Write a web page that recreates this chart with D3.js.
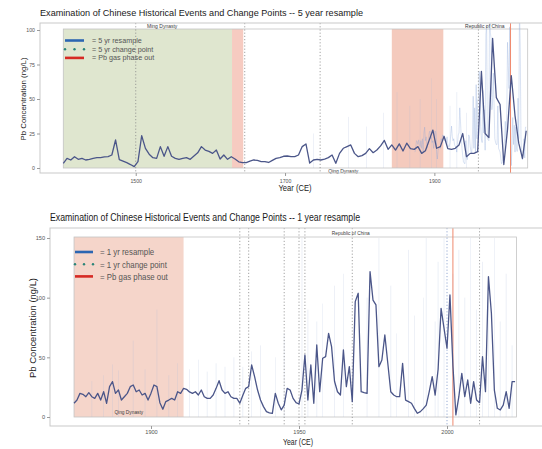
<!DOCTYPE html>
<html>
<head>
<meta charset="utf-8">
<script src="https://cdn.jsdelivr.net/npm/d3@7"></script>
<style>
  html, body { margin: 0; padding: 0; background: #fff; }
  svg { display: block; }
  text { font-family: "Liberation Sans", Arial, sans-serif; }
</style>
</head>
<body>
<svg id="chart" width="542" height="449"></svg>
<script>
// ---------------- data ----------------
// 5-year resampled Pb concentration (ng/L), starting 1403, one value every 5 years
const start5 = 1403;
const step5 = 5;
const pb5yr = [
  3.4, 7.0, 5.8, 8.2, 6.3, 7.0, 5.8, 6.3, 7.0, 7.5,
  7.5, 8.0, 8.2, 9.4, 20.3, 6.0, 5.0, 3.9, 2.5, 1.0,
  4.6, 23.4, 14.2, 10.0, 7.5, 7.0, 15.5, 8.5, 15.5, 8.5,
  7.0, 6.3, 7.0, 7.5, 6.3, 8.7, 11.0, 15.5, 13.0, 12.0,
  10.6, 13.0, 6.5, 9.4, 6.3, 8.2, 6.5, 4.5, 3.9, 3.9,
  5.0, 5.8, 5.5, 4.6, 4.6, 4.0, 5.5, 7.0, 7.5, 8.5,
  8.7, 8.2, 8.2, 9.4, 15.5, 17.4, 3.6, 5.8, 6.3, 5.8,
  6.5, 7.5, 9.4, 3.4, 10.6, 14.3, 15.5, 16.7, 10.6, 8.2,
  9.0, 10.6, 14.0, 11.1, 13.0, 16.0, 20.0, 13.5, 16.7, 13.0,
  17.5, 12.3, 18.0, 14.0, 13.5, 15.5, 10.6, 12.5, 20.0, 27.5,
  14.3, 15.5, 23.0, 14.0, 13.5, 14.3, 16.7, 25.0, 8.2, 10.6,
  10.6, 11.8, 70.0, 25.0, 22.0, 94.0, 51.0, 46.0, 2.5, 28.0,
  67.0, 38.0, 18.0, 7.0, 27.0
];

// 1-year resampled Pb concentration (ng/L), 1874 onward
const start1 = 1874;
const pb1yr = [
  11.5, 14.2, 19.8, 19.0, 17.0, 20.4, 17.0, 15.6, 19.8, 14.2,   // 1874-1883
  21.2, 11.5, 25.4, 29.6, 19.8, 22.6, 14.2, 17.0, 19.8, 25.4,   // 1884-1893
  26.8, 21.2, 22.6, 18.4, 19.8, 14.2, 20.0, 26.8, 25.4, 12.0,   // 1894-1903
  6.5, 12.9, 14.2, 15.6, 14.2, 21.2, 19.8, 24.0, 23.2, 21.0,    // 1904-1913
  19.8, 21.2, 18.4, 22.6, 17.0, 15.6, 15.6, 18.4, 24.0, 30.4,   // 1914-1923
  22.6, 19.8, 21.2, 17.0, 15.6, 15.6, 11.5, 18.0, 24.0, 25.4,   // 1924-1933
  43.6, 33.8, 22.6, 14.2, 8.7, 4.5, 3.5, 3.1, 19.8, 11.5,       // 1934-1943
  6.0, 10.0, 24.0, 22.6, 15.6, 12.0, 10.9, 22.6, 52.0, 14.2,    // 1944-1953
  43.6, 11.5, 60.4, 21.2, 49.2, 50.6, 70.1, 59.0, 30.0, 21.2,   // 1954-1963
  18.4, 56.2, 25.4, 42.2, 12.9, 96.7, 103.7, 21.2, 20.4, 19.8,  // 1964-1973
  121.8, 98.0, 93.9, 42.2, 47.8, 68.7, 45.0, 21.2, 18.4, 17.0,  // 1974-1983
  17.0, 45.0, 14.2, 12.9, 11.5, 7.0, 3.1, 4.5, 7.0, 10.0,       // 1984-1993
  21.2, 33.8, 18.4, 40.0, 91.1, 74.3, 57.6, 102.3, 43.0, 1.7,   // 1994-2003
  17.0, 36.6, 17.0, 31.0, 11.5, 29.6, 14.2, 12.0, 50.6, 21.2,   // 2004-2013
  117.6, 86.9, 22.6, 7.3, 5.9, 10.0, 21.2, 7.3, 29.6, 29.6      // 2014-2023
];

// Faint high-resolution excursions behind the resampled lines: [year, Pb]
const rawSpikesTop = [
  [1738, 25], [1785, 37], [1809, 30], [1832, 40], [1850, 55], [1867, 45],
  [1881, 50], [1896, 65], [1903, 50], [1921, 45], [1930, 55], [1943, 40]
];
const rawSpikesBottom = [
  [1880, 30], [1884, 35], [1887, 44], [1889, 39], [1894, 64], [1898, 40],
  [1902, 90], [1906, 35], [1909, 45], [1913, 40], [1916, 48], [1919, 38],
  [1922, 45], [1925, 42], [1928, 50], [1931, 42], [1934, 55], [1937, 60],
  [1942, 50], [1945, 70], [1951, 150], [1953, 90], [1956, 80], [1958, 95],
  [1962, 110], [1965, 120], [1973, 100], [1977, 150], [1981, 110], [1983, 70],
  [1987, 140], [1989, 85], [1992, 100], [1993, 150], [1996, 80], [1997, 130],
  [1999, 150], [2002, 120], [2004, 140], [2006, 100], [2008, 150], [2010, 90],
  [2012, 130], [2014, 100], [2016, 150], [2018, 80], [2020, 120], [2022, 60]
];

// Change points
const changePts5 = [1500, 1646, 1747, 1959];
const changePts1 = [1930, 1933, 1945, 1950, 1952, 1968, 2000, 2011];
const phaseOutYear = 2002;

// Historical periods
const shadesTop = [
  { from: 1403, to: 1629, color: "#dfe6cf" },
  { from: 1629, to: 1644, color: "#f6cbc1" },
  { from: 1843, to: 1912, color: "#f4cabd" }
];
const shadesBottom = [
  { from: 1874, to: 1911, color: "#f5d5ca" }
];
const erasTop = [
  { name: "Ming Dynasty", from: 1403, to: 1668, pos: "top" },
  { name: "Qing Dynasty", from: 1644, to: 1912, pos: "bottom" },
  { name: "Republic of China", from: 1912, to: 2023, pos: "top" }
];
const erasBottom = [
  { name: "Qing Dynasty", from: 1874, to: 1911, pos: "bottom" },
  { name: "Republic of China", from: 1912, to: 2023, pos: "top" }
];

const ticksTopX = [1500, 1700, 1900];
const ticksTopY = [0, 25, 50, 75, 100];
const ticksBottomX = [1900, 1950, 2000];
const ticksBottomY = [0, 50, 100, 150];

const legendTop = ["= 5 yr resample", "= 5 yr change point", "= Pb gas phase out"];
const legendBottom = ["= 1 yr resample", "= 1 yr change point", "= Pb gas phase out"];

const titleTop = "Examination of Chinese Historical Events and Change Points -- 5 year resample";
const titleBottom = "Examination of Chinese Historical Events and Change Points -- 1 year resample";

// ---------------- drawing ----------------
const svg = d3.select("#chart");
const series5 = pb5yr.map((v, i) => ({ year: start5 + i * step5, v }));
const series1 = pb1yr.map((v, i) => ({ year: start1 + i, v }));

// squeeze text horizontally to emulate a condensed face
function condense(sel, factor) {
  if (factor === 1) return;
  sel.each(function () {
    const w = this.getComputedTextLength();
    d3.select(this).attr("textLength", w * factor).attr("lengthAdjust", "spacingAndGlyphs");
  });
}

function drawPanel(cfg) {
  const g = svg.append("g");
  const { x, y, box } = cfg;
  const clipId = "clip-" + cfg.id;
  svg.append("defs").append("clipPath").attr("id", clipId)
    .append("rect").attr("x", box.x0).attr("y", box.y0)
    .attr("width", box.x1 - box.x0).attr("height", box.y1 - box.y0);

  // title
  svg.append("text")
    .attr("x", cfg.title.x).attr("y", cfg.title.y)
    .attr("font-size", cfg.title.size)
    .attr("fill", "#1a1a1a")
    .attr("textLength", cfg.title.len).attr("lengthAdjust", "spacingAndGlyphs")
    .text(cfg.title.text);

  const inner = g.append("g").attr("clip-path", `url(#${clipId})`);
  inner.append("rect").attr("x", box.x0).attr("y", box.y0)
    .attr("width", box.x1 - box.x0).attr("height", box.y1 - box.y0).attr("fill", "#fff");

  const yTop = y(y.domain()[1]) - 1, yBot = y(0);
  inner.selectAll(".shade").data(cfg.shades).join("rect")
    .attr("x", d => x(d.from)).attr("width", d => x(d.to) - x(d.from))
    .attr("y", yTop).attr("height", yBot - yTop)
    .attr("fill", d => d.color);

  // era frame
  inner.append("rect")
    .attr("x", x(cfg.frame[0])).attr("width", x(cfg.frame[1]) - x(cfg.frame[0]))
    .attr("y", yTop).attr("height", yBot - yTop)
    .attr("fill", "none").attr("stroke", "#c4c4c4").attr("stroke-width", 0.8);

  // faint raw excursions
  inner.selectAll(".spike").data(cfg.spikes).join("line")
    .attr("x1", d => x(d[0])).attr("x2", d => x(d[0]))
    .attr("y1", y(0)).attr("y2", d => y(d[1]))
    .attr("stroke", "#a9bbdc").attr("stroke-width", 0.6).attr("opacity", 0.35);

  if (cfg.faint) {
    inner.append("path").datum(cfg.faint)
      .attr("d", d3.line().x(d => x(d.year)).y(d => y(d.v)))
      .attr("fill", "none").attr("stroke", "#86a3d6").attr("stroke-width", 1)
      .attr("opacity", 0.3);
  }

  // change points
  inner.selectAll(".cp").data(cfg.cps).join("line")
    .attr("x1", d => x(d)).attr("x2", d => x(d))
    .attr("y1", box.y0).attr("y2", box.y1)
    .attr("stroke", d => d === 2000 ? "#7c95c8" : "#8c8c8c")
    .attr("stroke-width", 0.8).attr("stroke-dasharray", "1.2,2");

  // Pb gas phase out
  inner.append("line")
    .attr("x1", x(phaseOutYear)).attr("x2", x(phaseOutYear))
    .attr("y1", box.y0).attr("y2", box.y1)
    .attr("stroke", "#ef8a6e").attr("stroke-width", 1);

  // resampled line
  inner.append("path").datum(cfg.series)
    .attr("d", d3.line().x(d => x(d.year)).y(d => y(d.v)))
    .attr("fill", "none").attr("stroke", "#4b5689").attr("stroke-width", cfg.lineW)
    .attr("stroke-linejoin", "round");

  // era labels
  const eras = g.selectAll(".era").data(cfg.eras).join("text")
    .attr("x", d => x((d.from + d.to) / 2))
    .attr("y", d => d.pos === "top" ? cfg.eraTopY : cfg.eraBotY)
    .attr("text-anchor", "middle").attr("font-size", cfg.eraSize)
    .attr("fill", "#3a3a3a").text(d => d.name);
  condense(eras, cfg.squeeze);

  // panel border
  g.append("rect").attr("x", box.x0).attr("y", box.y0)
    .attr("width", box.x1 - box.x0).attr("height", box.y1 - box.y0)
    .attr("fill", "none").attr("stroke", "#c9c9c9").attr("stroke-width", 1);

  // axes
  const ax = g.append("g").attr("transform", `translate(0,${box.y1})`)
    .call(d3.axisBottom(x).tickValues(cfg.xTicks).tickFormat(d3.format("d")).tickSize(3).tickPadding(cfg.xPad));
  const ay = g.append("g").attr("transform", `translate(${box.x0},0)`)
    .call(d3.axisLeft(y).tickValues(cfg.yTicks).tickFormat(d3.format("d")).tickSize(3).tickPadding(2));
  [ax, ay].forEach(a => {
    a.select(".domain").remove();
    a.selectAll(".tick line").attr("stroke", "#9a9a9a");
    a.selectAll(".tick text").attr("fill", "#555").attr("font-size", cfg.tickSize)
      .attr("font-family", '"Liberation Sans", Arial, sans-serif');
  });

  // axis titles
  g.append("text").attr("x", cfg.xTitle.x).attr("y", cfg.xTitle.y)
    .attr("text-anchor", "middle").attr("font-size", cfg.xTitle.size)
    .attr("fill", "#222")
    .attr("textLength", cfg.xTitle.len).attr("lengthAdjust", "spacingAndGlyphs")
    .text("Year (CE)");
  g.append("text")
    .attr("transform", `translate(${cfg.yTitle.x},${cfg.yTitle.y}) rotate(-90)`)
    .attr("text-anchor", "middle").attr("font-size", cfg.yTitle.size)
    .attr("fill", "#222")
    .attr("textLength", cfg.yTitle.len).attr("lengthAdjust", "spacingAndGlyphs")
    .text("Pb Concentration (ng/L)");

  // legend
  const L = cfg.legend;
  const lg = g.append("g");
  L.items.forEach((label, i) => {
    const yy = L.y + i * L.dy;
    if (i === 0) {
      lg.append("line").attr("x1", L.x0).attr("x2", L.x1).attr("y1", yy).attr("y2", yy)
        .attr("stroke", "#2c66b2").attr("stroke-width", 2.6);
    } else if (i === 1) {
      lg.selectAll(null).data([0, 0.5, 1]).join("circle")
        .attr("cx", t => L.x0 + t * (L.x1 - L.x0)).attr("cy", yy).attr("r", 1.2)
        .attr("fill", "#2a8478");
    } else {
      lg.append("line").attr("x1", L.x0).attr("x2", L.x1).attr("y1", yy).attr("y2", yy)
        .attr("stroke", "#d62a24").attr("stroke-width", 2.6);
    }
    const t = lg.append("text").attr("x", L.tx).attr("y", yy + L.size * 0.35)
      .attr("font-size", L.size)
      .attr("fill", "#555").text(label);
    condense(t, cfg.squeeze);
  });
}

// top: 5 year resample
drawPanel({
  id: "top",
  squeeze: 1,
  box: { x0: 40, y0: 23, x1: 548, y1: 173 },
  x: d3.scaleLinear().domain([1403, 2023]).range([63.3, 526.2]),
  y: d3.scaleLinear().domain([0, 100]).range([168, 30]),
  title: { text: titleTop, x: 40, y: 16, size: 9.4, len: 323 },
  shades: shadesTop,
  frame: [1403, 2025],
  spikes: rawSpikesTop,
  faint: series1,
  cps: changePts5,
  series: series5,
  lineW: 1.3,
  eras: erasTop, eraTopY: 27.5, eraBotY: 172.5, eraSize: 5,
  xTicks: ticksTopX, yTicks: ticksTopY, tickSize: 5.2, xPad: 3,
  xTitle: { x: 295, y: 191, size: 8.2, len: 33 },
  yTitle: { x: 26, y: 99, size: 7.8, len: 83 },
  legend: { items: legendTop, x0: 65, x1: 84, tx: 92, y: 40.5, dy: 8.7, size: 7.2 }
});

// bottom: 1 year resample
drawPanel({
  id: "bottom",
  squeeze: 0.8,
  box: { x0: 50, y0: 228, x1: 548, y1: 426 },
  x: d3.scaleLinear().domain([1900, 2000]).range([151, 447]),
  y: d3.scaleLinear().domain([0, 150]).range([417, 238]),
  title: { text: titleBottom, x: 50, y: 221, size: 10.2, len: 310 },
  shades: shadesBottom,
  frame: [1874, 2023.5],
  spikes: rawSpikesBottom,
  faint: null,
  cps: changePts1,
  series: series1,
  lineW: 1.3,
  eras: erasBottom, eraTopY: 235, eraBotY: 414, eraSize: 6,
  xTicks: ticksBottomX, yTicks: ticksBottomY, tickSize: 5.6, xPad: 1.5,
  xTitle: { x: 298, y: 445, size: 9.5, len: 30 },
  yTitle: { x: 36, y: 328, size: 9.8, len: 100 },
  legend: { items: legendBottom, x0: 75, x1: 93, tx: 100, y: 252, dy: 12.2, size: 9.8 }
});
</script>
</body>
</html>
